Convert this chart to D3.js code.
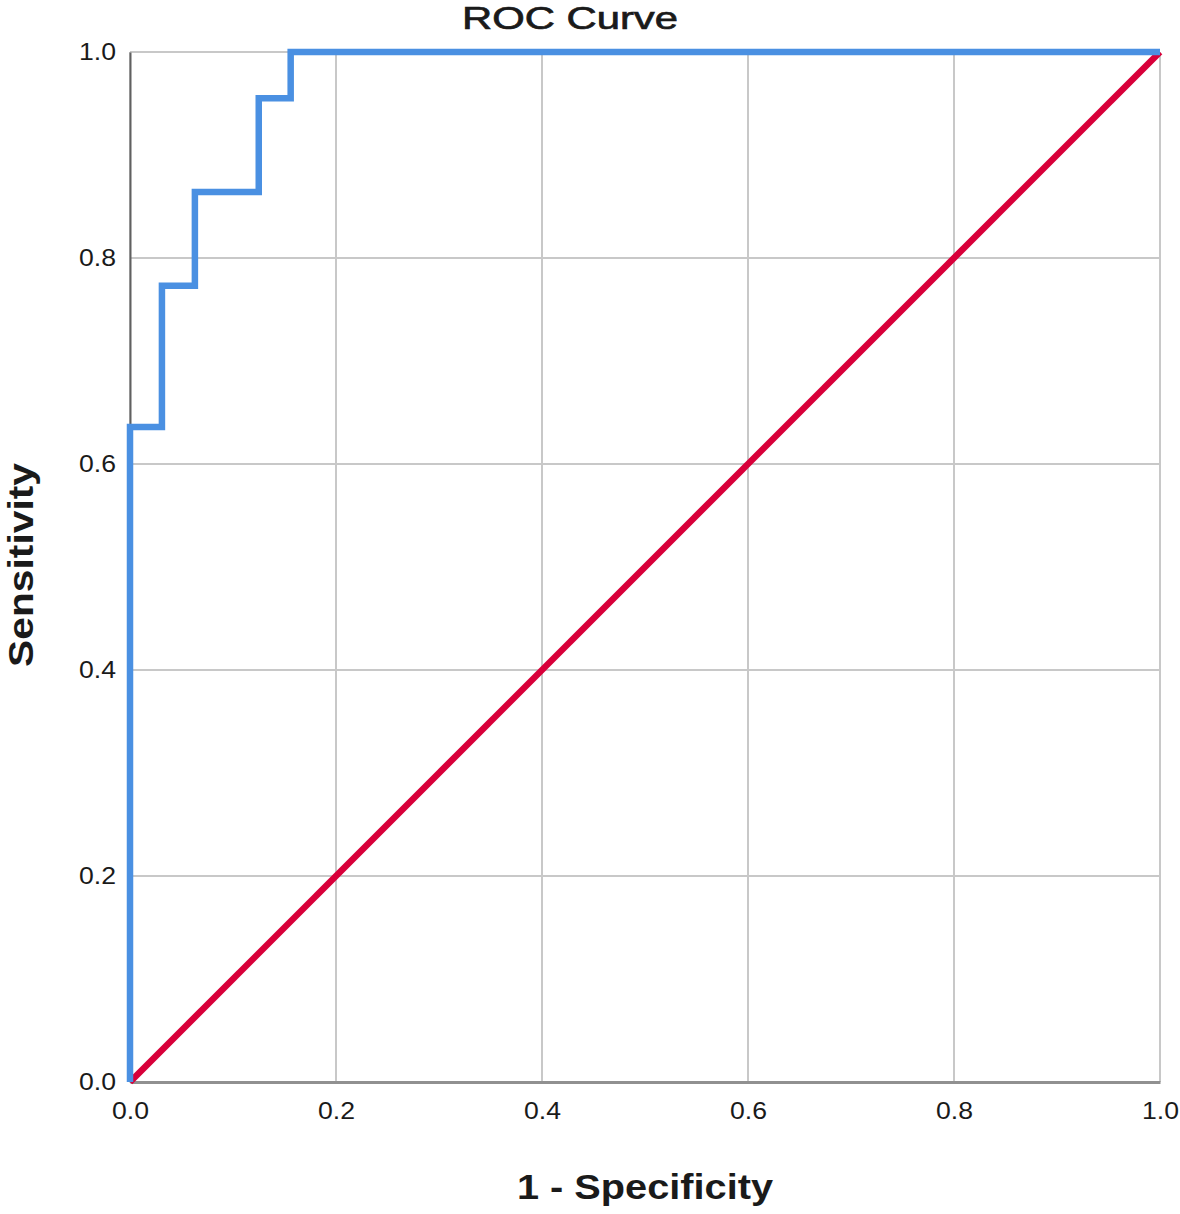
<!DOCTYPE html>
<html>
<head>
<meta charset="utf-8">
<script src="https://d3js.org/d3.v7.min.js"></script>
<style>
  body { margin: 0; background: #fff; }
  text { font-family: "Liberation Sans", Arial, sans-serif; fill: #1a1a1a; }
</style>
</head>
<body>
<div id="chart"></div>
<script>
  // ROC step curve
  var fpr = [0, 0, 0.031, 0.031, 0.063, 0.063, 0.125, 0.125, 0.156, 0.156, 1];
  var tpr = [0, 0.636, 0.636, 0.773, 0.773, 0.864, 0.864, 0.955, 0.955, 1, 1];
  // reference line
  var refX = [0, 1];
  var refY = [0, 1];
  var ticks = [0, 0.2, 0.4, 0.6, 0.8, 1.0];

  var W = 1180, H = 1214;
  var margin = {top: 52, right: 20, bottom: 132, left: 130};
  var svg = d3.select('#chart').append('svg').attr('width', W).attr('height', H);

  var x = d3.scaleLinear().domain([0, 1]).range([margin.left, W - margin.right]);
  var y = d3.scaleLinear().domain([0, 1]).range([H - margin.bottom, margin.top]);

  // grid
  svg.append('g').selectAll('line.gx').data(ticks).enter().append('line')
      .attr('x1', function (d) { return x(d); }).attr('x2', function (d) { return x(d); })
      .attr('y1', y(0)).attr('y2', y(1))
      .attr('stroke', '#c8c8c8').attr('stroke-width', 2);
  svg.append('g').selectAll('line.gy').data(ticks).enter().append('line')
      .attr('y1', function (d) { return y(d); }).attr('y2', function (d) { return y(d); })
      .attr('x1', x(0)).attr('x2', x(1))
      .attr('stroke', '#c8c8c8').attr('stroke-width', 2);

  // axes
  var xAxis = svg.append('g').attr('transform', 'translate(0,' + y(0) + ')')
      .call(d3.axisBottom(x).tickValues(ticks).tickFormat(d3.format('.1f')).tickSize(0).tickPadding(20));
  var yAxis = svg.append('g').attr('transform', 'translate(' + x(0) + ',0)')
      .call(d3.axisLeft(y).tickValues(ticks).tickFormat(d3.format('.1f')).tickSize(0).tickPadding(14));
  [xAxis, yAxis].forEach(function (a) {
    a.select('.domain').attr('stroke', '#606060').attr('stroke-width', 2);
    a.selectAll('text').style('font-size', '24px').attr('fill', '#1a1a1a')
        .attr('textLength', 37).attr('lengthAdjust', 'spacingAndGlyphs');
  });
  xAxis.select('.domain').attr('stroke', '#909090').attr('stroke-width', 3);

  // reference diagonal
  var line = d3.line().x(function (d) { return x(d[0]); }).y(function (d) { return y(d[1]); });
  svg.append('path')
      .datum(refX.map(function (v, i) { return [v, refY[i]]; }))
      .attr('d', line).attr('fill', 'none')
      .attr('stroke', '#d8003a').attr('stroke-width', 6.5);

  // ROC curve
  svg.append('path')
      .datum(fpr.map(function (v, i) { return [v, tpr[i]]; }))
      .attr('d', line).attr('fill', 'none')
      .attr('stroke', '#4a90e2').attr('stroke-width', 6.5).attr('stroke-linejoin', 'miter');

  // titles
  svg.append('text').attr('x', 570).attr('y', 29).attr('text-anchor', 'middle')
      .style('font-size', '32px').attr('stroke', '#1a1a1a').attr('stroke-width', 0.7)
      .attr('textLength', 216).attr('lengthAdjust', 'spacingAndGlyphs').text('ROC Curve');
  svg.append('text').attr('x', 645).attr('y', 1199).attr('text-anchor', 'middle')
      .style('font-size', '35px').style('font-weight', 'bold')
      .attr('textLength', 256).attr('lengthAdjust', 'spacingAndGlyphs').text('1 - Specificity');
  svg.append('text').attr('transform', 'translate(33,565) rotate(-90)').attr('text-anchor', 'middle')
      .style('font-size', '35px').style('font-weight', 'bold')
      .attr('textLength', 204).attr('lengthAdjust', 'spacingAndGlyphs').text('Sensitivity');
</script>
</body>
</html>
